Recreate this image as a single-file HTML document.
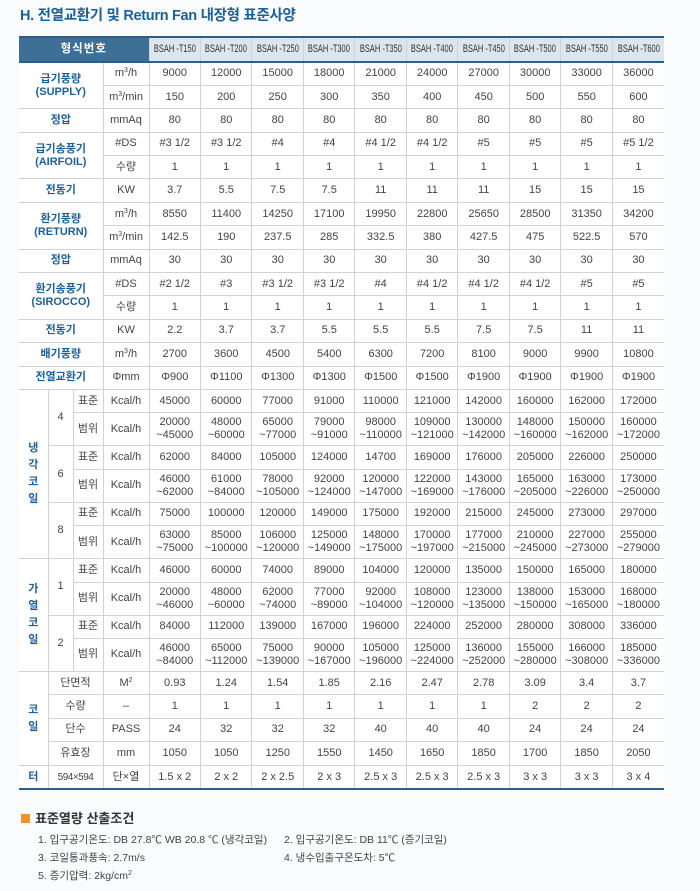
<!DOCTYPE html>
<html><head><meta charset="utf-8">
<style>
*{margin:0;padding:0;box-sizing:border-box}
body{width:700px;height:891px;background:#fafbfc;font-family:"Liberation Sans","Noto Sans CJK KR",sans-serif;position:relative;overflow:hidden;color:#444}
h1{position:absolute;left:20px;top:4px;font-size:14.5px;color:#1d5f97;font-weight:bold;letter-spacing:-0.3px}
table{position:absolute;left:19px;top:36px;width:645px;border-collapse:collapse;table-layout:fixed;background:#fff;font-size:11px;border-top:2px solid #2c5f88;border-bottom:2px solid #2c5f88}
td{border:1px solid #cfd3d8;text-align:center;vertical-align:middle;line-height:13px;padding:0;color:#444;white-space:nowrap}
tr td:first-child{border-left:none}
tr td:last-child{border-right:none}
tr.s{height:23.4px}
tr.r{height:33px}
tr.h{height:25px}
td.hd{background:#3e6f95;color:#fff;font-weight:bold;font-size:11.5px;letter-spacing:1px;border-bottom:2px solid #2c5f88}
td.mh{background:#dde6ef;font-size:11px;color:#333;border-bottom:2px solid #2c5f88}
td.mh span{display:inline-block;margin:0 -15px;transform:scaleX(0.68);transform-origin:center}
td.l{color:#1d5f97;font-weight:bold;font-size:11px}
td.v{color:#1d5f97;font-weight:bold;font-size:11px;line-height:17px}
sup{font-size:7px;vertical-align:4px;line-height:0}
.sec{position:absolute;left:21px;top:808px;font-size:13px;font-weight:bold;color:#333}
.sec i{display:inline-block;width:9px;height:9px;background:#f0922b;margin-right:5px;vertical-align:0}
.n{position:absolute;font-size:10.5px;color:#444}
</style></head><body>
<h1>H. 전열교환기 및 Return Fan 내장형 표준사양</h1>
<table>
<colgroup><col style="width:29px"><col style="width:25px"><col style="width:30px"><col style="width:46px">
<col><col><col><col><col><col><col><col><col><col></colgroup>
<tr class="h"><td class="hd" colspan="4">형식번호</td><td class="mh"><span>BSAH -T150</span></td><td class="mh"><span>BSAH -T200</span></td><td class="mh"><span>BSAH -T250</span></td><td class="mh"><span>BSAH -T300</span></td><td class="mh"><span>BSAH -T350</span></td><td class="mh"><span>BSAH -T400</span></td><td class="mh"><span>BSAH -T450</span></td><td class="mh"><span>BSAH -T500</span></td><td class="mh"><span>BSAH -T550</span></td><td class="mh"><span>BSAH -T600</span></td></tr>
<tr class="s"><td class="l" colspan="3" rowspan="2">급기풍량<br>(SUPPLY)</td><td>m<sup>3</sup>/h</td><td>9000</td><td>12000</td><td>15000</td><td>18000</td><td>21000</td><td>24000</td><td>27000</td><td>30000</td><td>33000</td><td>36000</td></tr>
<tr class="s"><td>m<sup>3</sup>/min</td><td>150</td><td>200</td><td>250</td><td>300</td><td>350</td><td>400</td><td>450</td><td>500</td><td>550</td><td>600</td></tr>
<tr class="s"><td class="l" colspan="3">정압</td><td>mmAq</td><td>80</td><td>80</td><td>80</td><td>80</td><td>80</td><td>80</td><td>80</td><td>80</td><td>80</td><td>80</td></tr>
<tr class="s"><td class="l" colspan="3" rowspan="2">급기송풍기<br>(AIRFOIL)</td><td>#DS</td><td>#3 1/2</td><td>#3 1/2</td><td>#4</td><td>#4</td><td>#4 1/2</td><td>#4 1/2</td><td>#5</td><td>#5</td><td>#5</td><td>#5 1/2</td></tr>
<tr class="s"><td>수량</td><td>1</td><td>1</td><td>1</td><td>1</td><td>1</td><td>1</td><td>1</td><td>1</td><td>1</td><td>1</td></tr>
<tr class="s"><td class="l" colspan="3">전동기</td><td>KW</td><td>3.7</td><td>5.5</td><td>7.5</td><td>7.5</td><td>11</td><td>11</td><td>11</td><td>15</td><td>15</td><td>15</td></tr>
<tr class="s"><td class="l" colspan="3" rowspan="2">환기풍량<br>(RETURN)</td><td>m<sup>3</sup>/h</td><td>8550</td><td>11400</td><td>14250</td><td>17100</td><td>19950</td><td>22800</td><td>25650</td><td>28500</td><td>31350</td><td>34200</td></tr>
<tr class="s"><td>m<sup>3</sup>/min</td><td>142.5</td><td>190</td><td>237.5</td><td>285</td><td>332.5</td><td>380</td><td>427.5</td><td>475</td><td>522.5</td><td>570</td></tr>
<tr class="s"><td class="l" colspan="3">정압</td><td>mmAq</td><td>30</td><td>30</td><td>30</td><td>30</td><td>30</td><td>30</td><td>30</td><td>30</td><td>30</td><td>30</td></tr>
<tr class="s"><td class="l" colspan="3" rowspan="2">환기송풍기<br>(SIROCCO)</td><td>#DS</td><td>#2 1/2</td><td>#3</td><td>#3 1/2</td><td>#3 1/2</td><td>#4</td><td>#4 1/2</td><td>#4 1/2</td><td>#4 1/2</td><td>#5</td><td>#5</td></tr>
<tr class="s"><td>수량</td><td>1</td><td>1</td><td>1</td><td>1</td><td>1</td><td>1</td><td>1</td><td>1</td><td>1</td><td>1</td></tr>
<tr class="s"><td class="l" colspan="3">전동기</td><td>KW</td><td>2.2</td><td>3.7</td><td>3.7</td><td>5.5</td><td>5.5</td><td>5.5</td><td>7.5</td><td>7.5</td><td>11</td><td>11</td></tr>
<tr class="s"><td class="l" colspan="3">배기풍량</td><td>m<sup>3</sup>/h</td><td>2700</td><td>3600</td><td>4500</td><td>5400</td><td>6300</td><td>7200</td><td>8100</td><td>9000</td><td>9900</td><td>10800</td></tr>
<tr class="s"><td class="l" colspan="3">전열교환기</td><td>Φmm</td><td>Φ900</td><td>Φ1100</td><td>Φ1300</td><td>Φ1300</td><td>Φ1500</td><td>Φ1500</td><td>Φ1900</td><td>Φ1900</td><td>Φ1900</td><td>Φ1900</td></tr>
<tr class="s"><td class="v" rowspan="6">냉<br>각<br>코<br>일</td><td rowspan="2">4</td><td>표준</td><td>Kcal/h</td><td>45000</td><td>60000</td><td>77000</td><td>91000</td><td>110000</td><td>121000</td><td>142000</td><td>160000</td><td>162000</td><td>172000</td></tr>
<tr class="r"><td>범위</td><td>Kcal/h</td><td>20000<br>~45000</td><td>48000<br>~60000</td><td>65000<br>~77000</td><td>79000<br>~91000</td><td>98000<br>~110000</td><td>109000<br>~121000</td><td>130000<br>~142000</td><td>148000<br>~160000</td><td>150000<br>~162000</td><td>160000<br>~172000</td></tr>
<tr class="s"><td rowspan="2">6</td><td>표준</td><td>Kcal/h</td><td>62000</td><td>84000</td><td>105000</td><td>124000</td><td>14700</td><td>169000</td><td>176000</td><td>205000</td><td>226000</td><td>250000</td></tr>
<tr class="r"><td>범위</td><td>Kcal/h</td><td>46000<br>~62000</td><td>61000<br>~84000</td><td>78000<br>~105000</td><td>92000<br>~124000</td><td>120000<br>~147000</td><td>122000<br>~169000</td><td>143000<br>~176000</td><td>165000<br>~205000</td><td>163000<br>~226000</td><td>173000<br>~250000</td></tr>
<tr class="s"><td rowspan="2">8</td><td>표준</td><td>Kcal/h</td><td>75000</td><td>100000</td><td>120000</td><td>149000</td><td>175000</td><td>192000</td><td>215000</td><td>245000</td><td>273000</td><td>297000</td></tr>
<tr class="r"><td>범위</td><td>Kcal/h</td><td>63000<br>~75000</td><td>85000<br>~100000</td><td>106000<br>~120000</td><td>125000<br>~149000</td><td>148000<br>~175000</td><td>170000<br>~197000</td><td>177000<br>~215000</td><td>210000<br>~245000</td><td>227000<br>~273000</td><td>255000<br>~279000</td></tr>
<tr class="s"><td class="v" rowspan="4">가<br>열<br>코<br>일</td><td rowspan="2">1</td><td>표준</td><td>Kcal/h</td><td>46000</td><td>60000</td><td>74000</td><td>89000</td><td>104000</td><td>120000</td><td>135000</td><td>150000</td><td>165000</td><td>180000</td></tr>
<tr class="r"><td>범위</td><td>Kcal/h</td><td>20000<br>~46000</td><td>48000<br>~60000</td><td>62000<br>~74000</td><td>77000<br>~89000</td><td>92000<br>~104000</td><td>108000<br>~120000</td><td>123000<br>~135000</td><td>138000<br>~150000</td><td>153000<br>~165000</td><td>168000<br>~180000</td></tr>
<tr class="s"><td rowspan="2">2</td><td>표준</td><td>Kcal/h</td><td>84000</td><td>112000</td><td>139000</td><td>167000</td><td>196000</td><td>224000</td><td>252000</td><td>280000</td><td>308000</td><td>336000</td></tr>
<tr class="r"><td>범위</td><td>Kcal/h</td><td>46000<br>~84000</td><td>65000<br>~112000</td><td>75000<br>~139000</td><td>90000<br>~167000</td><td>105000<br>~196000</td><td>125000<br>~224000</td><td>136000<br>~252000</td><td>155000<br>~280000</td><td>166000<br>~308000</td><td>185000<br>~336000</td></tr>
<tr class="s"><td class="v" rowspan="4">코<br>일</td><td colspan="2">단면적</td><td>M<sup>2</sup></td><td>0.93</td><td>1.24</td><td>1.54</td><td>1.85</td><td>2.16</td><td>2.47</td><td>2.78</td><td>3.09</td><td>3.4</td><td>3.7</td></tr>
<tr class="s"><td colspan="2">수량</td><td>–</td><td>1</td><td>1</td><td>1</td><td>1</td><td>1</td><td>1</td><td>1</td><td>2</td><td>2</td><td>2</td></tr>
<tr class="s"><td colspan="2">단수</td><td>PASS</td><td>24</td><td>32</td><td>32</td><td>32</td><td>40</td><td>40</td><td>40</td><td>24</td><td>24</td><td>24</td></tr>
<tr class="s" style="height:24px"><td colspan="2">유효장</td><td>mm</td><td>1050</td><td>1050</td><td>1250</td><td>1550</td><td>1450</td><td>1650</td><td>1850</td><td>1700</td><td>1850</td><td>2050</td></tr>
<tr class="s"><td class="v">터</td><td colspan="2" style="font-size:10px;letter-spacing:-0.5px">594×594</td><td>단×열</td><td>1.5 x 2</td><td>2 x 2</td><td>2 x 2.5</td><td>2 x 3</td><td>2.5 x 3</td><td>2.5 x 3</td><td>2.5 x 3</td><td>3 x 3</td><td>3 x 3</td><td>3 x 4</td></tr>
</table>
<div class="sec"><i></i>표준열량 산출조건</div>
<div class="n" style="left:38px;top:832px">1. 입구공기온도: DB 27.8℃ WB 20.8 ℃ (냉각코일)</div>
<div class="n" style="left:284px;top:832px">2. 입구공기온도: DB 11℃ (증기코일)</div>
<div class="n" style="left:38px;top:850px">3. 코일통과풍속: 2.7m/s</div>
<div class="n" style="left:284px;top:850px">4. 냉수입출구온도차: 5℃</div>
<div class="n" style="left:38px;top:868px">5. 증기압력: 2kg/cm<sup>2</sup></div>
</body></html>
